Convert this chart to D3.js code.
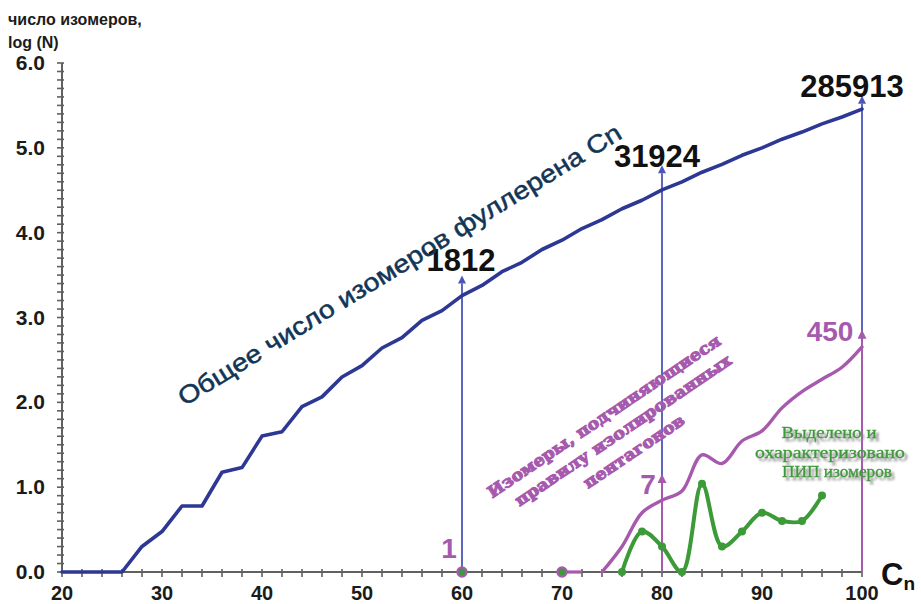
<!DOCTYPE html>
<html><head><meta charset="utf-8">
<script src="https://cdn.jsdelivr.net/npm/d3@7"></script>
<style>
html,body{margin:0;padding:0;background:#fff;}
svg{display:block;}
</style></head>
<body>
<svg id="chart" width="921" height="604"></svg>
<script>
// ---- data ----
const carbonN = [20,22,24,26,28,30,32,34,36,38,40,42,44,46,48,50,52,54,56,58,60,62,64,66,68,70,72,74,76,78,80,82,84,86,88,90,92,94,96,98,100];
const totalIsomers = [1,0,1,1,2,3,6,6,15,17,40,45,89,116,199,271,437,580,924,1205,1812,2385,3465,4478,6332,8149,11190,14246,19151,24109,31924,39718,51592,63761,81738,99918,126409,153493,191839,231017,285913];
const iprN1 = [70,72];
const iprCounts1 = [1,1];
const iprN2 = [74,76,78,80,82,84,86,88,90,92,94,96,98,100];
const iprCounts2 = [1,2,5,7,9,24,19,35,46,86,134,187,259,450];
const isolatedN = [60,70];
const isolatedCounts = [1,1];
const charN = [76,78,80,82,84,86,88,90,92,94,96];
const charCounts = [1,3,2,1,11,2,3,5,4,4,8];
const xTicks = [20,30,40,50,60,70,80,90,100];
const yTicks = [0,1,2,3,4,5,6];
const yTickLabels = ["0.0","1.0","2.0","3.0","4.0","5.0","6.0"];
const blueArrowN = [60,80,100];
const blueArrowTop = [3.4,4.7,5.52];
const blueArrowLabels = ["1812","31924","285913"];
const purpleArrowN = [80,100];
const purpleArrowTop = [1.05,2.75];
const purpleLabels = ["1","7","450"];
const yTitle = ["число изомеров,","log (N)"];
const totalTitle = "Общее число изомеров фуллерена Cn";
const iprTitle = ["Изомеры, подчиняющиеся","правилу изолированных","пентагонов"];
const charTitle = ["Выделено и","охарактеризовано","ПИП изомеров"];

const lg = c => c > 0 ? Math.log10(c) : 0;

// ---- setup ----
const svg = d3.select("#chart");
const x = d3.scaleLinear().domain([20,100]).range([62,862]);
const y = d3.scaleLinear().domain([0,6]).range([572,63]);

const BLUE = "#2d3794", PURPLE = "#a65aae", GREEN = "#3d9a38", ARROW = "#4c56b8";
const SANS = "'Liberation Sans', Arial, sans-serif";

const defs = svg.append("defs");
function marker(id, color, w, h){
  defs.append("marker").attr("id", id).attr("viewBox","0 0 10 10")
    .attr("refX", 5).attr("refY", 10).attr("markerWidth", w).attr("markerHeight", h)
    .attr("markerUnits","userSpaceOnUse").attr("orient","0")
    .append("path").attr("d","M0,10 L5,0 L10,10 Z").attr("fill", color);
}
marker("arrB", ARROW, 8, 11);
marker("arrP", PURPLE, 9, 11);
const sh = defs.append("filter").attr("id","shadow").attr("x","-10%").attr("y","-30%").attr("width","130%").attr("height","180%");
sh.append("feDropShadow").attr("dx", 3).attr("dy", 3).attr("stdDeviation", 1.3)
  .attr("flood-color", "#8a8a8a").attr("flood-opacity", 0.9);

// ---- axes ----
const axisColor = "#606060";
const gAx = svg.append("g");
gAx.append("line").attr("x1", x(20)).attr("x2", x(100)).attr("y1", y(0)).attr("y2", y(0))
  .attr("stroke", axisColor).attr("stroke-width", 2);
gAx.append("line").attr("x1", x(20)).attr("x2", x(20)).attr("y1", y(0)).attr("y2", y(6))
  .attr("stroke", axisColor).attr("stroke-width", 2);
gAx.selectAll("line.ym").data(d3.range(0, 61)).join("line")
  .attr("x1", x(20) - 5).attr("x2", x(20) + 2)
  .attr("y1", d => y(d/10)).attr("y2", d => y(d/10))
  .attr("stroke", axisColor).attr("stroke-width", 1.6);
gAx.selectAll("line.xm").data(d3.range(20, 101, 2)).join("line")
  .attr("x1", d => x(d)).attr("x2", d => x(d))
  .attr("y1", y(0) - 3).attr("y2", y(0) + 5)
  .attr("stroke", axisColor).attr("stroke-width", 1.6);

gAx.selectAll("text.yl").data(yTicks).join("text")
  .attr("x", 45).attr("y", d => y(d) + 7).attr("text-anchor","end")
  .attr("font-family", SANS).attr("font-weight","bold").attr("font-size", 21)
  .attr("fill","#1b1b1b").text((d,i) => yTickLabels[i]);
gAx.selectAll("text.xl").data(xTicks).join("text")
  .attr("x", d => x(d)).attr("y", 600).attr("text-anchor","middle")
  .attr("font-family", SANS).attr("font-weight","bold").attr("font-size", 20)
  .attr("fill","#1b1b1b").text(d => d);

svg.selectAll("text.yt").data(yTitle).join("text")
  .attr("x", 8).attr("y", (d,i) => 25 + i*23)
  .attr("font-family", SANS).attr("font-weight","bold").attr("font-size", 16)
  .attr("fill","#1b1b1b").text(d => d);

const cn = svg.append("text").attr("x", 881).attr("y", 585)
  .attr("font-family", SANS).attr("font-weight","bold").attr("fill","#111");
cn.append("tspan").attr("font-size", 31).text("C");
cn.append("tspan").attr("font-size", 19).attr("dy", 5).text("n");

// ---- arrows ----
svg.selectAll("line.ba").data(blueArrowN).join("line")
  .attr("x1", d => x(d)).attr("x2", d => x(d))
  .attr("y1", y(0)).attr("y2", (d,i) => y(blueArrowTop[i]))
  .attr("stroke", ARROW).attr("stroke-width", 1.8).attr("marker-end","url(#arrB)");

// ---- blue line ----
const line = d3.line().x(d => x(d[0])).y(d => y(d[1]));
svg.append("path").datum(carbonN.map((n,i) => [n, lg(totalIsomers[i])]))
  .attr("d", line).attr("fill","none").attr("stroke", BLUE).attr("stroke-width", 3.6)
  .attr("stroke-linejoin","round").attr("stroke-linecap","round");

// ---- purple (IPR) ----
const smooth = d3.line().x(d => x(d[0])).y(d => y(d[1])).curve(d3.curveCatmullRom.alpha(0.5));
svg.selectAll("line.pa").data(purpleArrowN).join("line")
  .attr("x1", d => x(d)).attr("x2", d => x(d))
  .attr("y1", y(0)).attr("y2", (d,i) => y(purpleArrowTop[i]))
  .attr("stroke", PURPLE).attr("stroke-width", 2).attr("marker-end","url(#arrP)");
svg.append("path").datum(iprN1.map((n,i) => [n, lg(iprCounts1[i])]))
  .attr("d", line).attr("fill","none").attr("stroke", PURPLE).attr("stroke-width", 3.2);
svg.append("path").datum(iprN2.map((n,i) => [n, lg(iprCounts2[i])]))
  .attr("d", smooth).attr("fill","none").attr("stroke", PURPLE).attr("stroke-width", 3.4)
  .attr("stroke-linecap","round");

// ---- green (characterized) ----
const greenPts = charN.map((n,i) => [n, lg(charCounts[i])]);
svg.append("path").datum(greenPts)
  .attr("d", smooth).attr("fill","none").attr("stroke", GREEN).attr("stroke-width", 4)
  .attr("stroke-linecap","round").attr("stroke-linejoin","round");
svg.selectAll("circle.g").data(greenPts).join("circle")
  .attr("cx", d => x(d[0])).attr("cy", d => y(d[1])).attr("r", 4).attr("fill", GREEN);
const isoPts = isolatedN.map((n,i) => [n, lg(isolatedCounts[i])]);
svg.selectAll("circle.iso").data(isoPts).join("circle")
  .attr("cx", d => x(d[0])).attr("cy", d => y(d[1])).attr("r", 4.5)
  .attr("fill", GREEN).attr("stroke", PURPLE).attr("stroke-width", 2.4);

// ---- value labels ----
const blueLabelPos = [[461, 271], [657, 167], [852, 97]];
svg.selectAll("text.bl").data(blueArrowLabels).join("text")
  .attr("x", (d,i) => blueLabelPos[i][0]).attr("y", (d,i) => blueLabelPos[i][1])
  .attr("text-anchor","middle").attr("font-family", SANS).attr("font-weight","bold")
  .attr("font-size", 31).attr("fill","#111").text(d => d);
const purpleLabelPos = [[449, 558], [648, 494], [830, 341]];
svg.selectAll("text.pl").data(purpleLabels).join("text")
  .attr("x", (d,i) => purpleLabelPos[i][0]).attr("y", (d,i) => purpleLabelPos[i][1])
  .attr("text-anchor","middle").attr("font-family", SANS).attr("font-weight","bold")
  .attr("font-size", 28).attr("fill", PURPLE).text(d => d);

// ---- rotated titles ----
svg.append("text").attr("transform","translate(404,272) rotate(-31.5)")
  .attr("text-anchor","middle").attr("font-family", SANS).attr("font-size", 25)
  .attr("fill","#123556").attr("textLength", 515).attr("lengthAdjust","spacingAndGlyphs")
  .attr("stroke","#123556").attr("stroke-width",0.5)
  .text(totalTitle);

const iprPos = [[607, 421, 277], [626, 435, 257], [637, 456, 118]];
svg.selectAll("text.ipr").data(iprTitle).join("text")
  .attr("transform", (d,i) => `translate(${iprPos[i][0]},${iprPos[i][1]}) rotate(-34)`)
  .attr("text-anchor","middle").attr("font-family","'DejaVu Serif', serif").attr("font-weight","bold")
  .attr("font-size", 16).attr("fill", PURPLE).attr("stroke", PURPLE).attr("stroke-width", 1.1)
  .attr("stroke-linejoin","round")
  .attr("textLength", (d,i) => iprPos[i][2]).attr("lengthAdjust","spacingAndGlyphs")
  .text(d => d);

const charPos = [[829, 438, 95], [830, 458, 150], [837, 477, 110]];
svg.selectAll("text.ct").data(charTitle).join("text")
  .attr("x", (d,i) => charPos[i][0]).attr("y", (d,i) => charPos[i][1])
  .attr("text-anchor","middle").attr("font-family","'Liberation Serif', serif")
  .attr("font-size", 16).attr("fill", GREEN).attr("stroke", GREEN).attr("stroke-width", 0.3)
  .attr("filter","url(#shadow)")
  .attr("textLength", (d,i) => charPos[i][2]).attr("lengthAdjust","spacingAndGlyphs")
  .text(d => d);
</script>
</body></html>
